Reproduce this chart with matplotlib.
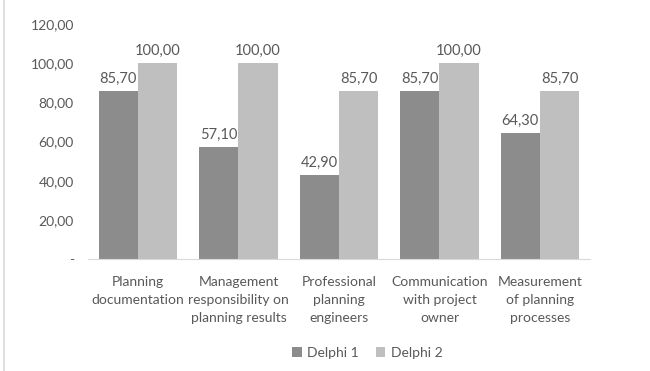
import matplotlib
matplotlib.use("Agg")
import matplotlib.pyplot as plt
import numpy as np
from matplotlib.lines import Line2D

categories = ["Planning\ndocumentation", "Management\nresponsibility on\nplanning results",
              "Professional\nplanning\nengineers", "Communication\nwith project\nowner",
              "Measurement\nof planning\nprocesses"]
delphi1 = [85.70, 57.10, 42.90, 85.70, 64.30]
delphi2 = [100.00, 100.00, 85.70, 100.00, 85.70]
yticks = [0, 20, 40, 60, 80, 100, 120]

plt.rcParams['font.family'] = ['Lato', 'DejaVu Sans']
txt = '#595959'
c1 = '#8c8c8c'
c2 = '#bfbfbf'

fig = plt.figure(figsize=(6.5, 3.71), dpi=100)
ax = fig.add_axes([0.135, 0.302, 0.773, 0.633])
x = np.arange(len(categories))
w = 0.39
b1 = ax.bar(x - w/2, delphi1, w, color=c1, label='Delphi 1')
b2 = ax.bar(x + w/2, delphi2, w, color=c2, label='Delphi 2')

def fmt(v):
    return f"{v:.2f}".replace('.', ',')

for bars, vals in ((b1, delphi1), (b2, delphi2)):
    for r, v in zip(bars, vals):
        ax.annotate(fmt(v), (r.get_x() + r.get_width()/2, v), xytext=(0, 4),
                    textcoords='offset points', ha='center', va='bottom',
                    fontsize=10.5, color=txt)

ax.set_ylim(0, 120)
ax.set_xlim(-0.5, len(categories) - 0.5)
ax.set_yticks(yticks)
ax.set_yticklabels(['-' if v == 0 else fmt(v) for v in yticks], fontsize=10, color=txt)
ax.set_xticks(x)
ax.set_xticklabels(categories, fontsize=10, color=txt, linespacing=1.6)
ax.tick_params(axis='x', length=0, pad=12)
ax.tick_params(axis='y', length=0, pad=10)
for s in ['top', 'right', 'left']:
    ax.spines[s].set_visible(False)
ax.spines['bottom'].set_color('#d9d9d9')

h, l = ax.get_legend_handles_labels()
fig.legend(h, l, loc='center', bbox_to_anchor=(0.565, 0.048), ncol=2, frameon=False,
           fontsize=10, labelcolor=txt, handlelength=0.7, handleheight=0.7,
           handletextpad=0.4, columnspacing=1.2)

fig.add_artist(Line2D([0.006, 0.006], [0.0, 1.0], color='#d9d9d9', lw=1.2,
                      transform=fig.transFigure))

fig.savefig('out.png', dpi=100)
